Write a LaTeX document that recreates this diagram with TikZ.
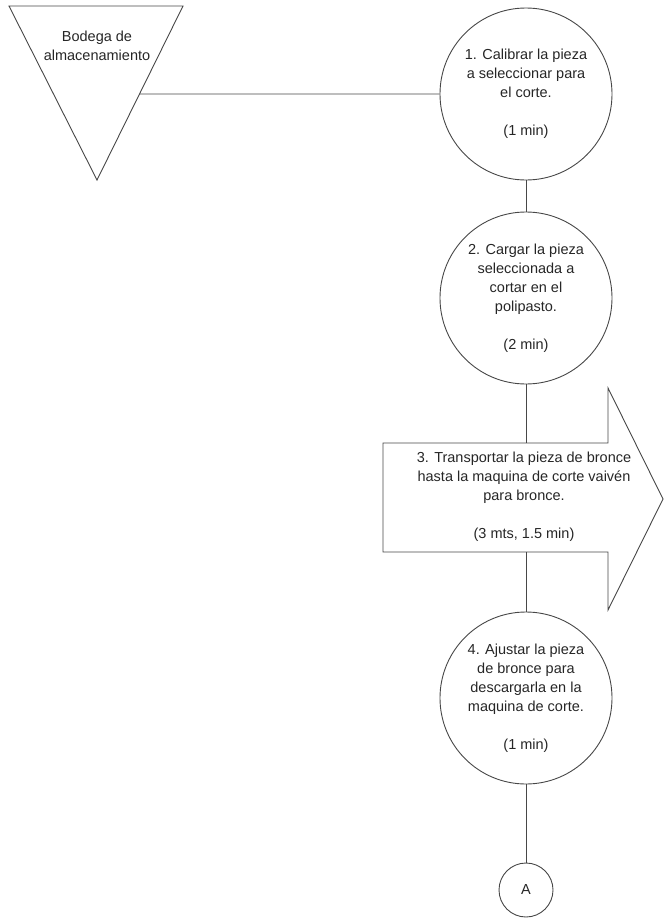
\documentclass[tikz,border=0pt]{standalone}
\usepackage{fontspec}
\setmainfont{Liberation Sans}
\usetikzlibrary{calc}
\begin{document}
\begin{tikzpicture}[x=1pt,y=-1pt,
  line width=0.9pt,
  ink/.style={draw=black!72},
  txt/.style={align=center,font=\fontsize{14.5}{19}\selectfont,text=black!85,inner sep=0pt},
  opcircle/.style={ink,circle,minimum size=172pt,inner sep=0pt,align=center,font=\fontsize{14.5}{19}\selectfont,text=black!85},
  connector/.style={circle,ink,minimum size=54pt,inner sep=0pt,font=\fontsize{14.5}{19}\selectfont,text=black!85},
  link/.style={draw=black!72}]
\useasboundingbox (0,0) rectangle (664,921);

% storage triangle
\coordinate (t1) at (9,6);
\coordinate (t2) at (183,6);
\coordinate (t3) at (97,180);
\draw[ink] (t1) -- (t2) -- (t3) -- cycle;
\coordinate (tout) at ($(t2)!0.506!(t3)$);
\node[txt] (store) at (97,46) {Bodega de\\almacenamiento};

% operations
\node[opcircle] (op1) at (526,94) {1. Calibrar la pieza\\a seleccionar para\\el corte.\\\mbox{}\\(1 min)};
\node[opcircle] (op2) at (526,298) {2. Cargar la pieza\\seleccionada a\\cortar en el\\polipasto.\\\mbox{}\\(2 min)};

% transport arrow
\draw[ink] (383,443) -- (608,443) -- (608,388) -- (663,499) -- (608,610) -- (608,552) -- (383,552) -- cycle;
\coordinate (arrtop) at (526,443);
\coordinate (arrbot) at (526,552);
\node[txt] (tr) at (524,497) {3. Transportar la pieza de bronce\\hasta la maquina de corte vaivén\\para bronce.\\\mbox{}\\(3 mts, 1.5 min)};

\node[opcircle] (op4) at (526,698) {4. Ajustar la pieza\\de bronce para\\descargarla en la\\maquina de corte.\\\mbox{}\\(1 min)};

\node[connector] (A) at (526,890) {A};

% connecting lines
\draw[link] (tout) -- (op1.west);
\draw[link] (op1.south) -- (op2.north);
\draw[link] (op2.south) -- (arrtop);
\draw[link] (arrbot) -- (op4.north);
\draw[link] (op4.south) -- (A.north);
\end{tikzpicture}
\end{document}
